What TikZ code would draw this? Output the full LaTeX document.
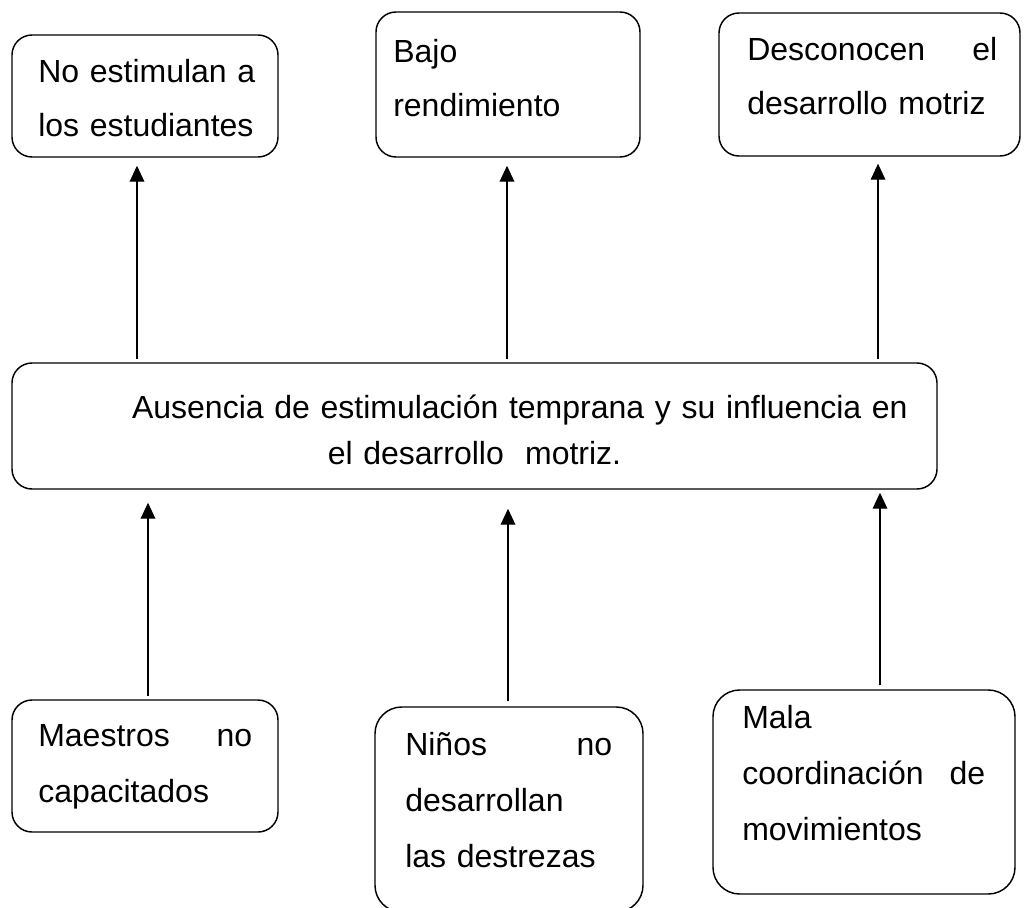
\documentclass[tikz,border=0pt]{standalone}
\usepackage{fontspec}
\setmainfont{Liberation Sans}
\usetikzlibrary{arrows.meta}

\tikzset{
  caja/.style={draw, line width=1.1pt, rounded corners=15pt, inner sep=0pt},
  texto/.style={anchor=base west, inner sep=0pt, align=left, font=\fontsize{24}{41}\selectfont},
  flecha/.style={line width=1pt, -{Triangle[length=12pt,width=11pt]}}
}

\begin{document}
\begin{tikzpicture}[x=0.75pt,y=0.75pt,yscale=-1,xscale=1]
        \useasboundingbox (0,0) rectangle (1027,907);

        % efectos
        \node[caja, minimum width=199.5pt, minimum height=91.5pt] (nostim) at (145,96) {};
        \node[caja, minimum width=198pt, minimum height=108.75pt] (bajo) at (508,84.5) {};
        \node[caja, minimum width=225.75pt, minimum height=107.25pt] (descon) at (869.5,84.5) {};
        \node[texto, text width=180pt] (nostim-t) at (38,82) {No estimulan a\\los estudiantes};
        \node[texto, text width=180pt] (bajo-t) at (393,62) {Bajo\\rendimiento};
        \node[texto, text width=187.5pt] (descon-t) at (747,60) {Desconocen\hfill el\\desarrollo motriz};

        % problema
        \node[caja, minimum width=693.75pt, minimum height=94.5pt] (ausencia) at (474.5,426) {};
        \node[texto, anchor=base, align=center, text width=675pt, font=\fontsize{24}{35}\selectfont] (ausencia-t) at (474.5,418) {\hspace*{68pt}Ausencia de estimulación temprana y su influencia en\\el desarrollo\ \ motriz.};

        % causas
        \node[caja, minimum width=199.5pt, minimum height=99pt] (maestros) at (145,766) {};
        \node[caja, rounded corners=20pt, minimum width=201pt, minimum height=153.75pt] (ninos) at (509,809.5) {};
        \node[caja, rounded corners=20pt, minimum width=226.5pt, minimum height=153pt] (mala) at (864,792) {};
        \node[texto, text width=160.5pt, font=\fontsize{24}{42}\selectfont] (maestros-t) at (38,746) {Maestros\hfill no\\capacitados};
        \node[texto, text width=155.25pt, font=\fontsize{24}{42}\selectfont] (ninos-t) at (405,755) {Niños\hfill no\\desarrollan\\las destrezas};
        \node[texto, text width=182.25pt, font=\fontsize{24}{42}\selectfont] (mala-t) at (742,728) {Mala\\coordinación\hfill de\\movimientos};

        % flechas
        \draw[flecha, shorten <=2.25pt, shorten >=6pt] ([xshift=-6pt]nostim.south |- ausencia.north) -- ([xshift=-6pt]nostim.south);
        \draw[flecha, shorten <=2.25pt, shorten >=6pt] ([xshift=-0.75pt]bajo.south |- ausencia.north) -- ([xshift=-0.75pt]bajo.south);
        \draw[flecha, shorten <=2.25pt, shorten >=5.25pt] ([xshift=6.4pt]descon.south |- ausencia.north) -- ([xshift=6.4pt]descon.south);
        \draw[flecha, shorten <=2.25pt, shorten >=9.75pt] ([xshift=2.25pt]maestros.north) -- ([xshift=2.25pt]maestros.north |- ausencia.south);
        \draw[flecha, shorten <=3.75pt, shorten >=14.25pt] ([xshift=-0.75pt]ninos.north) -- ([xshift=-0.75pt]ninos.north |- ausencia.south);
        \draw[flecha, shorten <=3pt, shorten >=2.25pt] ([xshift=12pt]mala.north) -- ([xshift=12pt]mala.north |- ausencia.south);
\end{tikzpicture}
\end{document}
